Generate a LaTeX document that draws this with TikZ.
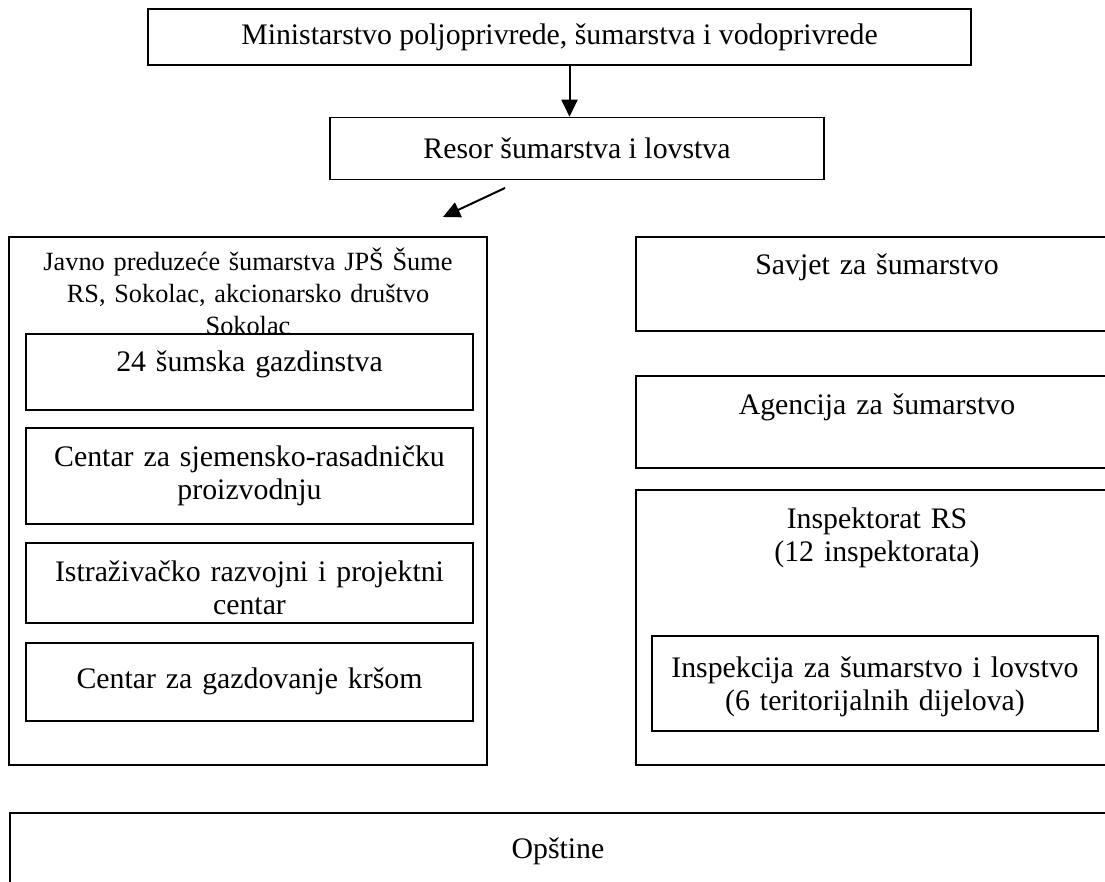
\documentclass[tikz,border=0pt]{standalone}
\usepackage{fontspec}
\setmainfont{Liberation Serif}
\usetikzlibrary{arrows.meta, positioning}

\tikzset{
	okvir/.style={draw, line width=1.6pt, fill=white, inner sep=0pt},
	natpis/.style={text width=470pt, align=center, inner sep=0pt, anchor=base,
		font=\fontsize{29.8}{33.5}\selectfont},
	naslov/.style={natpis, font=\fontsize{26.3}{32}\selectfont},
	strelica/.style={-{Triangle[length=17pt,width=16pt]}, line width=2pt},
}

\begin{document}
\begin{tikzpicture}[x=1pt, y=-1pt]
	\useasboundingbox (0,0) rectangle (1105,882);
	\clip (0,0) rectangle (1105,882);

	% vrh
	\node[okvir, minimum width=823pt, minimum height=56pt, font=\fontsize{29.8}{33.5}\selectfont] (min) at (559.5,37) {Ministarstvo poljoprivrede, šumarstva i vodoprivrede};
	\node[okvir, minimum width=494pt, minimum height=62pt, font=\fontsize{29.8}{33.5}\selectfont] (resor) at (577,148.5) {Resor šumarstva i lovstva};

	\draw[strelica] ([xshift=10pt]min.south) -- ([xshift=-7.5pt]resor.north);
	\coordinate (r1) at (505,188);
	\coordinate (r2) at (443,217);
	\draw[strelica] (r1) -- (r2);

	% lijevo: JPS
	\node[okvir, minimum width=478pt, minimum height=528pt] (jps) at (248,501) {};
	\node[naslov] (jpst) at (248,271) {Javno preduzeće šumarstva JPŠ Šume\\RS, Sokolac, akcionarsko društvo\\Sokolac};

	\node[okvir, minimum width=447pt, minimum height=76pt] (sg) at (249.5,372) {};
	\node[natpis] (sgt) at (249.5,371) {24 šumska gazdinstva};
	\node[okvir, minimum width=447pt, minimum height=96pt] (csr) at (249.5,476) {};
	\node[natpis] (csrt) at (249.5,466) {Centar za sjemensko-rasadničku\\proizvodnju};
	\node[okvir, minimum width=447pt, minimum height=80pt] (irc) at (249.5,583) {};
	\node[natpis] (irct) at (249.5,581) {Istraživačko razvojni i projektni\\centar};
	\node[okvir, minimum width=447pt, minimum height=78pt] (cgk) at (249.5,682) {};
	\node[natpis] (cgkt) at (249.5,688) {Centar za gazdovanje kršom};

	% desno
	\node[okvir, minimum width=489pt, minimum height=94pt] (sav) at (880.5,284) {};
	\node[natpis] (savt) at (877,275) {Savjet za šumarstvo};
	\node[okvir, minimum width=489pt, minimum height=92pt] (agen) at (880.5,422) {};
	\node[natpis] (agent) at (877,414) {Agencija za šumarstvo};
	\node[okvir, minimum width=489pt, minimum height=275pt] (insp) at (880.5,627.5) {};
	\node[natpis] (inspt) at (877,528) {Inspektorat RS\\(12 inspektorata)};
	\node[okvir, minimum width=446pt, minimum height=95pt] (isl) at (875,683.5) {};
	\node[natpis] (islt) at (875,677) {Inspekcija za šumarstvo i lovstvo\\(6 teritorijalnih dijelova)};

	% dno
	\node[okvir, minimum width=1115pt, minimum height=87pt] (ops) at (567.5,856.5) {};
	\node[natpis] (opst) at (558,858) {Opštine};
\end{tikzpicture}
\end{document}
